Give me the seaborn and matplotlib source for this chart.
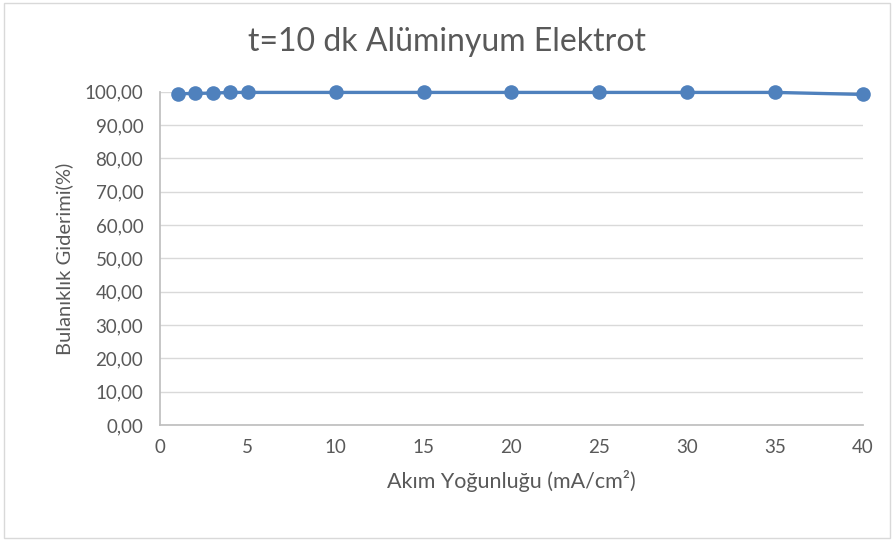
import matplotlib
matplotlib.use("Agg")
import matplotlib.pyplot as plt
import matplotlib.ticker as mticker
import seaborn as sns
import pandas as pd

current_density = [1, 2, 3, 4, 5, 10, 15, 20, 25, 30, 35, 40]
turbidity_removal = [99.4, 99.5, 99.6, 99.8, 99.8, 99.8, 99.8, 99.8, 99.8, 99.8, 99.8, 99.2]

df = pd.DataFrame({"x": current_density, "y": turbidity_removal})

sns.set_theme(style="white")
plt.rcParams['font.family'] = ['Lato', 'DejaVu Sans']

fig = plt.figure(figsize=(8.94, 5.41), dpi=100)
ax = fig.add_axes([0.179, 0.2144, 0.786, 0.616])
color = "#4F81BD"
sns.lineplot(data=df, x="x", y="y", ax=ax, color=color, linewidth=2.4,
             marker="o", markersize=10.5, markeredgewidth=0, clip_on=False)

ax.set_xlim(0, 40)
ax.set_ylim(0, 100)
ax.set_xticks([0, 5, 10, 15, 20, 25, 30, 35, 40])
ax.set_yticks(range(0, 101, 10))
ax.yaxis.set_major_formatter(mticker.FuncFormatter(lambda v, p: f"{v:.2f}".replace(".", ",")))
ax.grid(axis="y", color="#D9D9D9", linewidth=1)
ax.set_axisbelow(True)
for s in ["top", "right"]:
    ax.spines[s].set_visible(False)
ax.spines["bottom"].set_color("#BFBFBF")
ax.spines["left"].set_color("#BFBFBF")
ax.tick_params(axis="both", colors="#595959", labelsize=13.5, length=0)
ax.tick_params(axis="y", pad=12)
ax.tick_params(axis="x", pad=10)
ax.set_xlabel("Akım Yoğunluğu (mA/cm²)", color="#595959", fontsize=15.5, labelpad=10)
ax.set_ylabel("Bulanıklık Giderimi(%)", color="#595959", fontsize=14.5, labelpad=8)
fig.text(0.5, 0.922, "t=10 dk Alüminyum Elektrot", ha="center", va="center",
         fontsize=23, color="#595959")

border = plt.Rectangle((0.005, 0.005), 0.99, 0.99, transform=fig.transFigure,
                       fill=False, edgecolor="#D9D9D9", linewidth=1)
fig.add_artist(border)

fig.savefig("out.png", dpi=100)
